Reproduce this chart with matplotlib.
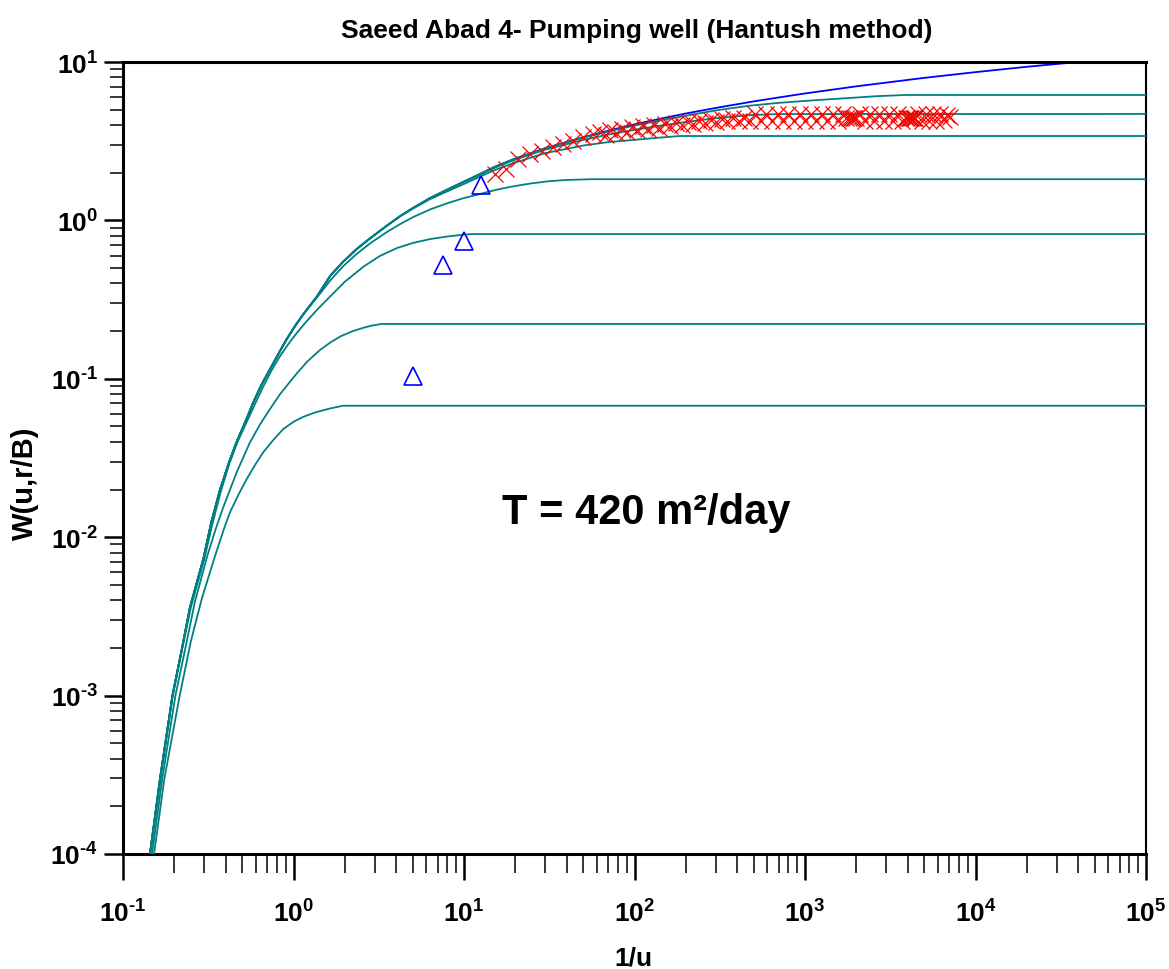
import matplotlib
matplotlib.use("Agg")
import numpy as np
import matplotlib.pyplot as plt
from matplotlib import font_manager
from matplotlib.ticker import LogLocator, NullFormatter, FuncFormatter


def pick_font(names):
    for n in names:
        try:
            font_manager.findfont(font_manager.FontProperties(family=n),
                                  fallback_to_default=False)
            return n
        except ValueError:
            pass
    return "DejaVu Sans"


fnt = pick_font(["Liberation Sans Narrow", "Liberation Sans", "Roboto"])
plt.rcParams["font.family"] = [fnt, "DejaVu Sans"]
plt.rcParams["font.weight"] = "bold"
plt.rcParams["mathtext.default"] = "regular"

# --- type curves (1/u, W) ---
# common steep branch shared by Theis and the small r/B curves
early_x = [0.144, 0.165, 0.195, 0.22, 0.247, 0.296, 0.33, 0.371, 0.42, 0.464,
           0.52, 0.581, 0.65, 0.728, 0.82, 0.912, 1.02, 1.14, 1.37, 1.65, 1.96,
           2.35, 2.81, 3.5, 4.2, 5.04]
early_w = [1.0e-4, 3.0e-4, 1.0e-3, 1.9e-3, 3.6e-3, 7.3e-3, 0.0125, 0.020, 0.030,
           0.040, 0.053, 0.071, 0.092, 0.115, 0.145, 0.178, 0.215, 0.255, 0.330,
           0.45, 0.55, 0.66, 0.77, 0.92, 1.06, 1.20]

theis_x = early_x + [6.3, 7.92, 9.9, 11.9, 15, 20, 30, 50, 70, 100, 150, 200, 300,
                     500, 700, 1000, 2000, 5000, 10000, 20000, 40000]
theis_w = early_w + [1.38, 1.56, 1.75, 1.92, 2.17, 2.46, 2.86, 3.35, 3.68, 4.04,
                     4.44, 4.73, 5.13, 5.64, 5.97, 6.33, 7.02, 7.94, 8.63, 9.33,
                     10.0]

rb005_x = early_x + [6.3, 7.92, 9.9, 11.9, 15, 20, 30, 50, 70, 100, 150, 200, 300,
                     475, 700, 1000, 1400, 1840, 2600, 3860, 1e5]
rb005_w = early_w + [1.38, 1.56, 1.75, 1.92, 2.17, 2.46, 2.85, 3.33, 3.64, 3.97,
                     4.33, 4.58, 4.95, 5.30, 5.52, 5.68, 5.82, 5.93, 6.08, 6.19,
                     6.19]

rb01_x = early_x + [6.3, 7.92, 9.9, 11.9, 15, 20, 30, 50, 70, 100, 150, 200, 300,
                    475, 700, 1e5]
rb01_w = early_w + [1.38, 1.55, 1.74, 1.90, 2.14, 2.42, 2.80, 3.22, 3.48, 3.73,
                    4.00, 4.18, 4.42, 4.62, 4.69, 4.70]

rb02_x = early_x[:-1] + [5.04, 6.3, 7.92, 9.9, 11.9, 15, 20, 30, 50, 70, 98, 140,
                         185, 1e5]
rb02_w = early_w[:-1] + [1.19, 1.36, 1.52, 1.69, 1.85, 2.07, 2.32, 2.66, 2.97, 3.12,
                         3.22, 3.33, 3.41, 3.41]

rb05_x = early_x[:18] + [1.37, 1.65, 1.96, 2.35, 2.81, 3.5, 4.2, 5.04, 6.3, 7.92,
                         9.9, 11.9, 14, 16.3, 20, 25.5, 32, 40, 56, 1e5]
rb05_w = early_w[:18] + [0.325, 0.42, 0.515, 0.615, 0.715, 0.84, 0.945, 1.05, 1.17,
                         1.28, 1.38, 1.45, 1.52, 1.58, 1.65, 1.72, 1.77, 1.80, 1.82,
                         1.82]

rb1_x = [0.144, 0.166, 0.196, 0.221, 0.25, 0.30, 0.335, 0.375, 0.42, 0.47, 0.53,
         0.59, 0.66, 0.74, 0.83, 0.93, 1.05, 1.195, 1.38, 1.6, 2.0, 2.57, 3.2,
         4.03, 5.0, 6.32, 8.0, 9.91, 11.1, 1e5]
rb1_w = [1.0e-4, 3.0e-4, 1.0e-3, 1.9e-3, 3.6e-3, 7.3e-3, 0.0122, 0.0195, 0.029,
         0.040, 0.053, 0.068, 0.088, 0.112, 0.138, 0.165, 0.196, 0.231, 0.274,
         0.322, 0.41, 0.51, 0.595, 0.668, 0.72, 0.762, 0.792, 0.812, 0.82, 0.82]

rb2_x = [0.148, 0.17, 0.203, 0.23, 0.264, 0.312, 0.35, 0.3876, 0.4644, 0.5557,
         0.64, 0.728, 0.834, 1.044, 1.2, 1.43, 1.65, 1.9, 2.2, 2.57, 2.9, 3.29,
         1e5]
rb2_w = [1.0e-4, 3.0e-4, 1.0e-3, 1.9e-3, 3.9e-3, 7.6e-3, 0.0113, 0.0155, 0.0257,
         0.0397, 0.052, 0.0644, 0.080, 0.108, 0.128, 0.152, 0.170, 0.186, 0.199,
         0.210, 0.217, 0.222, 0.222]

rb3_x = [0.152, 0.175, 0.215, 0.25, 0.29, 0.3464, 0.39, 0.424, 0.475, 0.5314,
         0.60, 0.665, 0.76, 0.871, 1.0, 1.14, 1.35, 1.64, 1.95, 1e5]
rb3_w = [1.0e-4, 3.0e-4, 1.0e-3, 2.2e-3, 4.1e-3, 7.6e-3, 0.0112, 0.01436, 0.0185,
         0.0233, 0.029, 0.0344, 0.041, 0.0482, 0.0535, 0.0575, 0.0615, 0.0650,
         0.0676, 0.0676]

# --- observation data ---
tri_x = [5.0, 7.5, 10.0, 12.58]
tri_w = [0.104, 0.523, 0.736, 1.68]

obs_x = [15.1, 17.6, 20.8, 24.4, 28.6, 33.4, 38.2, 43.7, 50.1, 57.3, 62.8, 68, 72,
         78, 84, 90, 97, 104, 112, 120, 130, 140, 150, 162, 175, 190, 205, 220,
         240, 260, 280, 300, 325, 350, 380, 410, 440, 475, 510, 550, 590, 640,
         690, 740, 800, 860, 930, 1000, 1080, 1160, 1250, 1350, 1450, 1560, 1680,
         1750, 1800, 1850, 1900, 1950, 2000, 2100, 2250, 2400, 2550, 2700, 2900,
         3100, 3300, 3500, 3700, 3900, 3980, 4050, 4130, 4200, 4280, 4350, 4420,
         4600, 4850, 5100, 5350, 5600, 5900, 6200, 6500, 6800, 7080]
obs_w = [1.96, 2.11, 2.44, 2.63, 2.76, 2.89, 3.04, 3.19, 3.35, 3.51, 3.60, 3.45,
         3.72, 3.55, 3.80, 3.62, 3.88, 3.70, 3.95, 3.76, 4.02, 3.85, 4.08, 3.92,
         4.14, 3.98, 4.20, 4.05, 4.25, 4.10, 4.30, 4.16, 4.35, 4.22, 4.40, 4.27,
         4.45, 4.25, 4.68, 4.25, 4.68, 4.25, 4.70, 4.25, 4.68, 4.25, 4.68, 4.25,
         4.68, 4.25, 4.68, 4.25, 4.68, 4.25, 4.68, 4.43, 4.43, 4.43, 4.43, 4.43,
         4.43, 4.68, 4.25, 4.68, 4.25, 4.68, 4.25, 4.68, 4.25, 4.68, 4.25, 4.43,
         4.43, 4.43, 4.43, 4.43, 4.43, 4.43, 4.43, 4.68, 4.25, 4.68, 4.25, 4.70,
         4.25, 4.70, 4.28, 4.66, 4.50]

teal = "#008080"


def pow10(v, pos):
    # 10^n with a short hyphen for negatives, like the original
    e = int(round(np.log10(v)))
    return r"$\mathdefault{10^{%s}}$" % str(e).replace("-", "\u2010")


fig = plt.figure(figsize=(11.69, 9.70), dpi=100)
ax = fig.add_axes([123 / 1169, 1 - 855 / 970, 1023 / 1169, 792 / 970])

ax.plot(theis_x, theis_w, color="#0000ff", lw=1.3, zorder=2)
for cx, cw in [(rb005_x, rb005_w), (rb01_x, rb01_w), (rb02_x, rb02_w),
               (rb05_x, rb05_w), (rb1_x, rb1_w), (rb2_x, rb2_w), (rb3_x, rb3_w)]:
    ax.plot(cx, cw, color=teal, lw=1.3, zorder=3)

ax.plot(tri_x, tri_w, ls="none", marker="^", ms=13, mfc="none", mec="#0000ff",
        mew=1.2, zorder=4)
ax.plot(obs_x, obs_w, ls="none", marker="x", ms=11, mew=0.9, color="#ff0000",
        zorder=5)

ax.set_xscale("log")
ax.set_yscale("log")
ax.set_xlim(0.1, 1e5)
ax.set_ylim(1e-4, 10)

ax.xaxis.set_major_locator(LogLocator(base=10, numticks=20))
ax.xaxis.set_minor_locator(LogLocator(base=10, subs=range(2, 10), numticks=100))
ax.yaxis.set_major_locator(LogLocator(base=10, numticks=20))
ax.yaxis.set_minor_locator(LogLocator(base=10, subs=range(2, 10), numticks=100))
ax.xaxis.set_major_formatter(FuncFormatter(pow10))
ax.yaxis.set_major_formatter(FuncFormatter(pow10))
ax.xaxis.set_minor_formatter(NullFormatter())
ax.yaxis.set_minor_formatter(NullFormatter())

ax.tick_params(axis="x", which="major", direction="out", length=19, width=1.8,
               labelsize=19, pad=14)
ax.tick_params(axis="x", which="minor", direction="out", length=14, width=1.1)
ax.tick_params(axis="y", which="major", direction="out", length=14, width=1.8,
               labelsize=19, pad=4)
ax.tick_params(axis="y", which="minor", direction="out", length=9.5, width=1.1)

for side in ["left", "bottom", "top"]:
    ax.spines[side].set_linewidth(2.2)
ax.spines["right"].set_linewidth(1.5)

fig.text(637 / 1169, 1 - 31 / 970, "Saeed Abad 4- Pumping well (Hantush method)",
         ha="center", va="center", fontsize=19, fontweight="bold")
fig.text(25 / 1169, 1 - 483 / 970, "W(u,r/B)", rotation=90, ha="center",
         va="center", fontsize=21, fontweight="bold")
fig.text(633 / 1169, 1 - 947 / 970, "1/u", ha="center", va="top", fontsize=19,
         fontweight="bold")
ax.text(0.511, 0.432, "T = 420 m²/day", transform=ax.transAxes, ha="center",
        va="center", fontsize=30, fontweight="bold")

fig.savefig("out.png", dpi=100)
